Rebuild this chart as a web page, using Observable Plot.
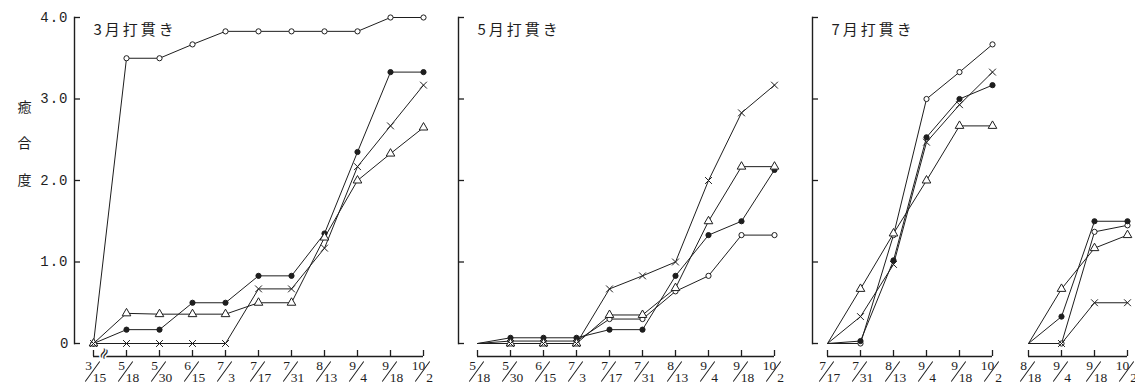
<!DOCTYPE html>
<html><head><meta charset="utf-8">
<script src="https://cdn.jsdelivr.net/npm/d3@7"></script>
<script src="https://cdn.jsdelivr.net/npm/@observablehq/plot@0.6"></script>
<style>
body{margin:0;background:#fff;}
#wrap{position:relative;width:1135px;height:388px;background:#fff;}
#wrap svg{position:absolute;top:0;background:transparent;}
</style></head><body><div id="wrap"></div>
<script>
// ---- data ----
const yTicks = [0, 1, 2, 3, 4];
const yTickLabels = ["0", "1.0", "2.0", "3.0", "4.0"];
const yTitle = "癒合度";
const panelTitles = ["3月打貫き", "5月打貫き", "7月打貫き", ""];

const dates1 = ["3/15","5/18","5/30","6/15","7/3","7/17","7/31","8/13","9/4","9/18","10/2"];
const open1   = [0, 3.5, 3.5, 3.67, 3.83, 3.83, 3.83, 3.83, 3.83, 4.0, 4.0];
const filled1 = [0, 0.17, 0.17, 0.5, 0.5, 0.83, 0.83, 1.35, 2.35, 3.33, 3.33];
const tri1    = [0, 0.37, 0.36, 0.36, 0.36, 0.5, 0.5, 1.3, 2.0, 2.33, 2.65];
const cross1  = [0, 0, 0, 0, 0, 0.67, 0.67, 1.17, 2.17, 2.67, 3.17];

const dates2 = ["5/18","5/30","6/15","7/3","7/17","7/31","8/13","9/4","9/18","10/2"];
const open2   = [0, 0.03, 0.03, 0.03, 0.3, 0.3, 0.64, 0.83, 1.33, 1.33];
const filled2 = [0, 0.07, 0.07, 0.07, 0.17, 0.17, 0.83, 1.33, 1.5, 2.13];
const tri2    = [0, 0, 0, 0, 0.35, 0.35, 0.68, 1.5, 2.17, 2.17];
const cross2  = [0, 0, 0, 0, 0.67, 0.83, 1.0, 2.0, 2.83, 3.17];

const dates3 = ["7/17","7/31","8/13","9/4","9/18","10/2"];
const open3   = [0, 0, 1.33, 3.0, 3.33, 3.67];
const filled3 = [0, 0.03, 1.02, 2.53, 3.0, 3.17];
const tri3    = [0, 0.67, 1.35, 2.0, 2.67, 2.67];
const cross3  = [0, 0.33, 0.97, 2.47, 2.93, 3.33];

const dates4 = ["8/18","9/4","9/18","10/2"];
const open4   = [0, 0, 1.37, 1.45];
const filled4 = [0, 0.33, 1.5, 1.5];
const tri4    = [0, 0.67, 1.17, 1.33];
const cross4  = [0, 0, 0.5, 0.5];

// ---- styling / layout ----
const ink = "#1e1e1e";
const seriesStyle = {
  open:   {symbol: "circle",   fill: "white", r: 2.6},
  filled: {symbol: "circle",   fill: ink,     r: 2.6},
  tri:    {symbol: "triangle", fill: "white", r: 3.2},
  cross:  {symbol: "times",    fill: "none",  r: 3.2}
};
const panels = [
  {dates: dates1, series: {open: open1, filled: filled1, tri: tri1, cross: cross1}, left: 0,    width: 440, marginLeft: 74, insetLeft: 16, marginRight: 15, yAxis: true,  yLabels: true,  firstMarker: true,  axisBreak: true},
  {dates: dates2, series: {open: open2, filled: filled2, tri: tri2, cross: cross2}, left: 440,  width: 355, marginLeft: 18, insetLeft: 17, marginRight: 20, yAxis: true,  yLabels: false, firstMarker: false, axisBreak: false},
  {dates: dates3, series: {open: open3, filled: filled3, tri: tri3, cross: cross3}, left: 795,  width: 210, marginLeft: 17, insetLeft: 14, marginRight: 12, yAxis: true,  yLabels: false, firstMarker: false, axisBreak: false},
  {dates: dates4, series: {open: open4, filled: filled4, tri: tri4, cross: cross4}, left: 1005, width: 130, marginLeft: 23, insetLeft: 0,  marginRight: 8,  yAxis: false, yLabels: false, firstMarker: false, axisBreak: false}
];

const slashShape = {draw(context, l) { context.moveTo(0, 0); context.lineTo(0, -l); }};

const wrap = document.getElementById("wrap");
panels.forEach((p, pi) => {
  const rows = [];
  for (const [name, vals] of Object.entries(p.series)) {
    vals.forEach((v, i) => rows.push({date: p.dates[i], series: name, value: v, i}));
  }
  const marks = [];
  if (p.yAxis) {
    marks.push(Plot.frame({anchor: "left", stroke: ink, strokeWidth: 1.4}));
    marks.push(Plot.axisY(yTicks, {
      label: null, tickSize: 6, dx: 6, tickPadding: 6, stroke: ink, strokeWidth: 1.3,
      tickFormat: p.yLabels ? (d => yTickLabels[yTicks.indexOf(d)]) : (() => ""),
      fontFamily: "Liberation Mono", fontSize: 14, fill: ink
    }));
  }
  if (pi === 0) {
    marks.push(Plot.text([yTitle], {
      frameAnchor: "left", dx: -57, dy: -44,
      text: d => d.split("").join("\n"), lineHeight: 2.6,
      fontFamily: "Noto Sans CJK JP", fontSize: 14, fill: ink
    }));
  }
  if (panelTitles[pi]) {
    marks.push(Plot.text([panelTitles[pi]], {
      frameAnchor: "top-left", dx: 19, dy: 7, textAnchor: "start",
      fontFamily: "Noto Sans CJK JP", fontSize: 15, fill: ink
    }));
  }
  // x axis: baseline + upward ticks + fraction labels
  marks.push(Plot.ruleY([0], {x1: () => p.dates[0], x2: () => p.dates[p.dates.length - 1], dy: 13, stroke: ink, strokeWidth: 1.3}));
  marks.push(Plot.axisX(p.dates, {label: null, tickSize: 6, dy: 7, stroke: ink, strokeWidth: 1.3, tickFormat: () => ""}));
  if (p.axisBreak) {
    marks.push(Plot.text([p.dates[0]], {x: d => d, text: () => "≈", frameAnchor: "bottom", dx: 15, dy: 12, rotate: -65,
      fontFamily: "DejaVu Sans", fontSize: 15, fill: ink, stroke: "white", strokeWidth: 3, paintOrder: "stroke"}));
  }
  marks.push(Plot.text(p.dates, {x: d => d, text: d => d.split("/")[0], frameAnchor: "bottom", dx: -5, dy: 26, fontFamily: "Liberation Serif", fontSize: 13.5, fill: ink}));
  marks.push(Plot.vector(p.dates, {x: d => d, frameAnchor: "bottom", dx: -1, dy: 28, length: 24, rotate: 36, anchor: "middle", shape: slashShape, stroke: ink, strokeWidth: 1}));
  marks.push(Plot.text(p.dates, {x: d => d, text: d => d.split("/")[1], frameAnchor: "bottom", dx: 6, dy: 38, fontFamily: "Liberation Serif", fontSize: 13.5, fill: ink}));
  // data
  marks.push(Plot.line(rows, {x: "date", y: "value", z: "series", stroke: ink, strokeWidth: 1}));
  for (const [name, st] of Object.entries(seriesStyle)) {
    const pts = rows.filter(r => r.series === name && (p.firstMarker || r.i > 0));
    marks.push(Plot.dot(pts, {x: "date", y: "value", symbol: st.symbol, r: st.r, fill: st.fill, stroke: ink, strokeWidth: 1}));
  }
  const svg = Plot.plot({
    width: p.width, height: 388,
    marginLeft: p.marginLeft, marginRight: p.marginRight, marginTop: 17, marginBottom: 45,
    style: {background: "transparent", overflow: "visible"},
    x: {type: "point", domain: p.dates, padding: 0, insetLeft: p.insetLeft, axis: null},
    y: {domain: [0, 4], axis: null},
    marks
  });
  svg.style.left = p.left + "px";
  d3.select(svg).selectAll("text")
    .filter(function () { return panelTitles.includes(this.textContent) && this.textContent !== ""; })
    .style("letter-spacing", "3px");
  d3.select(svg).selectAll("text")
    .filter(function () { return yTickLabels.includes(this.textContent) && this.textContent.includes("."); })
    .style("letter-spacing", "1px");
  wrap.appendChild(svg);
});
</script></body></html>
